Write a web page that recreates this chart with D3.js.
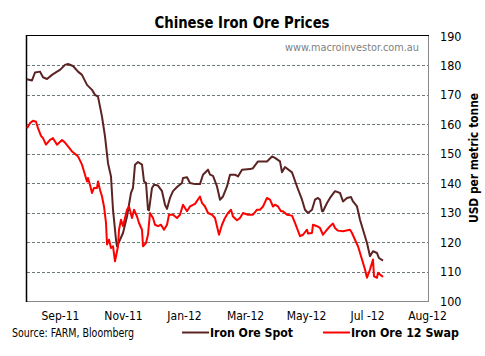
<!DOCTYPE html>
<html><head><meta charset="utf-8">
<script src="https://cdn.jsdelivr.net/npm/d3@7"></script>
<style>body{margin:0;background:#fff}svg{display:block}</style>
</head><body>
<script>
// data: [day offset, USD per tonne]
const spot = [[0,175.3],[5,174.9],[8,177.6],[13,177.9],[16,176],[20,175.4],[25,176.8],[30,177.9],[33,178.5],[38,180.2],[41,180.5],[46,179.8],[51,177.9],[55,176.8],[60,173.4],[65,171.7],[68,170],[71,169.4],[75,162.6],[78,155.9],[81,146.8],[84,142.3],[86,131],[89,120.8],[90,118.6],[93,120.8],[96,123.1],[100,128.7],[104,136.7],[106,138.4],[108,146.3],[111,147.2],[115,146.3],[117,140.6],[119,140.1],[121,131],[122,130.8],[125,138.4],[127,139.5],[131,139.2],[135,137.3],[138,132.7],[140,131.3],[143,135],[146,137.3],[150,138.7],[155,140.1],[156,141.8],[160,142],[163,140.1],[168,139.7],[173,139.7],[176,142.9],[181,144.6],[183,142.9],[186,142.5],[190,138.9],[193,134.4],[196,135.5],[200,138.9],[203,142.9],[208,142.9],[211,142.3],[215,144.6],[223,144.8],[226,145.1],[231,147.4],[240,147.4],[245,149.1],[248,148.6],[253,147.4],[255,143.7],[258,145.5],[265,143.7],[270,138.9],[275,134.4],[278,131],[281,129.9],[285,131],[288,134.4],[291,135],[293,134.4],[295,130.5],[296,130.5],[300,133.3],[303,135],[308,137.3],[313,136.7],[316,133.8],[320,135],[324,135.3],[326,133.8],[330,132.1],[333,127.6],[336,124.2],[340,119.7],[343,115.2],[346,116.9],[350,116.3],[352,114.6],[356,113.7]];
const swap = [[0,158.7],[3,160.4],[6,161.2],[9,160.9],[11,158.7],[14,156.1],[16,155.3],[19,153.1],[23,154.7],[26,155.3],[28,154.2],[30,153.1],[35,154.7],[38,153.8],[41,152.5],[45,150.8],[48,150],[51,149.1],[55,146.3],[58,142.9],[60,140.6],[61,141.8],[63,139.5],[65,136.7],[67,138.4],[70,138.4],[71,140.6],[73,137.8],[75,135.5],[77,132.1],[79,126.5],[80,119.2],[82,120.8],[84,118],[86,118.6],[88,113.5],[90,116.9],[91,118.6],[92,124.2],[94,127.6],[96,125.4],[98,128.2],[100,131],[102,132.1],[105,128.2],[107,131],[110,128.7],[112,126.5],[115,124.2],[116,118.6],[119,119.7],[121,122.5],[123,129.9],[126,128.2],[128,125.9],[131,125.4],[134,125.9],[137,124.2],[140,125.9],[142,129.3],[146,129.3],[150,128.2],[153,129.3],[156,132.7],[160,130.5],[163,132.1],[168,133],[173,135.5],[175,133.3],[178,132.1],[181,129.9],[185,129.3],[188,128.2],[192,122.5],[195,125.9],[198,128.2],[201,129.9],[204,131],[206,128.7],[210,127.4],[213,128.2],[216,129.9],[221,129.3],[226,129.3],[230,131],[233,131],[236,132.1],[240,135],[243,134.4],[246,132.1],[248,132.7],[251,132.1],[254,130.5],[256,130.5],[260,129.3],[265,129],[268,126.5],[273,122],[276,122.5],[280,124.2],[281,122.9],[285,123.1],[286,125.9],[290,125.4],[293,124.8],[296,122.5],[300,124.2],[303,125.4],[306,126.3],[308,124.8],[311,123.9],[316,123.7],[323,124.2],[325,123.1],[328,120.8],[331,118.6],[335,114.1],[338,110.7],[340,107.9],[343,110.7],[346,114.1],[347,108.4],[350,107.9],[351,109.6],[353,109],[356,108.2]];
const xTickDays = [33,96,157,218,279,340,400];
const xTickLabels = ["Sep-11","Nov-11","Jan-12","Mar-12","May-12","Jul -12","Aug-12"];
const yTicks = [100,110,120,130,140,150,160,170,180,190];
const seriesNames = ["Iron Ore Spot","Iron Ore 12 Swap"];

const W=485,H=356;
const L=27,R=428,T=36,B=301;
const colors=["#5c2323","#ff0000"];
const font="'DejaVu Sans Condensed', 'DejaVu Sans', sans-serif";

const svg=d3.select("body").append("svg").attr("width",W).attr("height",H).style("font-family",font);
const x=d3.scaleLinear().domain([0,401]).range([L,R]);
const y=d3.scaleLinear().domain([100,190]).range([B,T]);

// gridlines
svg.append("g").selectAll("line").data(yTicks.filter(d=>d>100&&d<190)).join("line")
  .attr("x1",L).attr("x2",R).attr("y1",d=>Math.round(y(d))+0.5).attr("y2",d=>Math.round(y(d))+0.5)
  .attr("stroke","#6e7a7a").attr("stroke-dasharray","3,2").attr("stroke-width",1);

// frame
svg.append("line").attr("x1",R+0.5).attr("x2",R+0.5).attr("y1",T-1).attr("y2",B+1).attr("stroke","#888");
svg.append("line").attr("x1",L).attr("x2",R+1).attr("y1",B+0.5).attr("y2",B+0.5).attr("stroke","#888");
svg.append("line").attr("x1",L-0.5).attr("x2",L-0.5).attr("y1",T-1).attr("y2",B+1).attr("stroke","#000").attr("stroke-width",1.5);
svg.append("line").attr("x1",L-1).attr("x2",R+1).attr("y1",T-0.5).attr("y2",T-0.5).attr("stroke","#000");

// y axis right
const yAxis=d3.axisRight(y).tickValues(yTicks).tickSize(0).tickPadding(0);
const ya=svg.append("g").attr("transform",`translate(${R+12},0)`).call(yAxis);
ya.select(".domain").remove();
ya.selectAll("text").attr("font-size",12.5).attr("font-family",font).attr("fill","#000").attr("textLength",21.5).attr("lengthAdjust","spacingAndGlyphs");

// x axis
const xAxis=d3.axisBottom(x).tickValues(xTickDays).tickFormat((d,i)=>xTickLabels[i]).tickSize(0).tickPadding(0);
const xa=svg.append("g").attr("transform",`translate(0,${B+10})`).call(xAxis);
xa.select(".domain").remove();
xa.selectAll("text").attr("font-size",12).attr("font-family",font).attr("fill","#000");

// lines
const line=d3.line().x(d=>x(d[0])).y(d=>y(d[1]));
[spot,swap].forEach((s,i)=>{
  svg.append("path").datum(s).attr("d",line).attr("fill","none").attr("stroke",colors[i]).attr("stroke-width",2).attr("stroke-linejoin","round");
});

function fit(t,w){t.attr("textLength",w).attr("lengthAdjust","spacingAndGlyphs");return t;}
// title
fit(svg.append("text").attr("x",242).attr("y",28).attr("text-anchor","middle").attr("font-size",15).attr("font-weight","bold").text("Chinese Iron Ore Prices"),175);
// watermark
fit(svg.append("text").attr("x",419).attr("y",51).attr("text-anchor","end").attr("font-size",11).attr("fill","#808080").text("www.macroinvestor.com.au"),134);
// y title
fit(svg.append("text").attr("transform","translate(478,158) rotate(-90)").attr("text-anchor","middle").attr("font-size",12.5).attr("font-weight","bold").text("USD per metric tonne"),130);
// source
fit(svg.append("text").attr("x",12).attr("y",337).attr("font-size",12).text("Source: FARM, Bloomberg"),122);
// legend
const legX=[182,323];
const legW=[83,108];
seriesNames.forEach((n,i)=>{
  svg.append("line").attr("x1",legX[i]).attr("x2",legX[i]+27).attr("y1",332.5).attr("y2",332.5).attr("stroke",colors[i]).attr("stroke-width",2);
  fit(svg.append("text").attr("x",legX[i]+28).attr("y",337).attr("font-size",12.5).attr("font-weight","bold").text(n),legW[i]);
});
</script>
</body></html>
